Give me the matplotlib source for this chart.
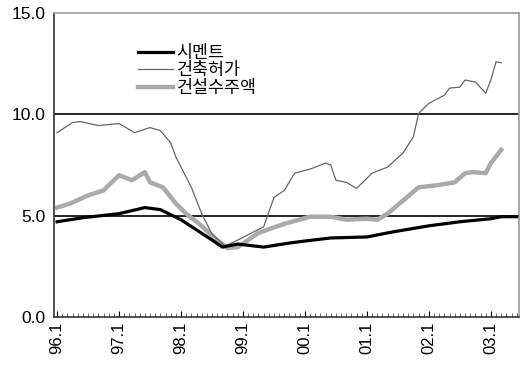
import matplotlib
matplotlib.use("Agg")
import matplotlib.pyplot as plt
from matplotlib.ticker import MultipleLocator

plt.rcParams['font.family'] = ['Liberation Sans', 'Noto Sans CJK KR', 'DejaVu Sans']

# months counted from 96.1
cement_m = [0, 5, 12, 17, 20, 24, 30, 32, 35, 40, 45, 48, 53, 60, 65, 72, 78, 84, 86, 89]
cement_v = [4.7, 4.9, 5.1, 5.4, 5.3, 4.8, 3.8, 3.45, 3.6, 3.45, 3.65, 3.75, 3.9, 3.95,
            4.2, 4.5, 4.7, 4.85, 4.95, 4.95]

permit_m = [0, 3, 4.5, 8, 12, 15, 18, 20, 22, 23, 26, 28, 30, 32.5, 35, 40, 42, 44, 46,
            49, 52, 53, 54, 56, 58, 60, 61, 64, 67, 69, 70, 72, 75, 76, 78, 79, 81, 83,
            84, 85, 86]
permit_v = [9.1, 9.6, 9.65, 9.45, 9.55, 9.1, 9.35, 9.2, 8.6, 7.9, 6.4, 5.1, 4.1, 3.5,
            3.8, 4.45, 5.9, 6.25, 7.1, 7.3, 7.6, 7.5, 6.75, 6.65, 6.35, 6.85, 7.1, 7.4,
            8.1, 8.9, 10.05, 10.55, 10.95, 11.3, 11.35, 11.7, 11.6, 11.05, 11.7, 12.6,
            12.55]

orders_m = [0, 2.5, 6, 9, 12, 14.5, 17, 18, 20.5, 23, 25, 27.5, 31, 33, 35, 39, 44, 49,
            53, 56, 60, 62, 64, 67, 70, 73.5, 77, 79, 80.5, 83, 84, 86]
orders_v = [5.4, 5.6, 6.0, 6.25, 7.0, 6.75, 7.15, 6.65, 6.4, 5.6, 5.1, 4.6, 3.8, 3.4,
            3.45, 4.15, 4.6, 4.95, 4.95, 4.8, 4.85, 4.8, 5.1, 5.75, 6.4, 6.5, 6.65, 7.1,
            7.15, 7.1, 7.6, 8.25]

tick_pos = [0, 12, 24, 36, 48, 60, 72, 84]
tick_labels = ["96.1", "97.1", "98.1", "99.1", "00.1", "01.1", "02.1", "03.1"]

fig = plt.figure(figsize=(5.24, 3.66), dpi=100)
ax = fig.add_axes([0.103, 0.134, 0.887, 0.830])

ax.axhline(5, color='black', lw=1.2, zorder=1)
ax.axhline(10, color='black', lw=1.2, zorder=1)

ax.plot(cement_m, cement_v, color='black', lw=2.3, label='시멘트', zorder=4)
ax.plot(permit_m, permit_v, color='#666666', lw=0.9, label='건축허가', zorder=3)
ax.plot(orders_m, orders_v, color='#aaaaaa', lw=3.2, label='건설수주액', zorder=2)

ax.set_xlim(-0.6, 89.4)
ax.set_ylim(0, 15)
ax.set_yticks([0, 5, 10, 15])
ax.set_yticklabels(["0.0", "5.0", "10.0", "15.0"], fontsize=12.5)
ax.set_xticks(tick_pos)
ax.set_xticklabels(tick_labels, rotation=90, fontsize=12)
ax.xaxis.set_minor_locator(MultipleLocator(1))
ax.tick_params(axis='x', which='minor', direction='in', length=3, color='#555555')
ax.tick_params(axis='x', which='major', direction='in', length=4)
ax.tick_params(axis='y', length=0, pad=6)

for s in ax.spines.values():
    s.set_color('#999999')
    s.set_linestyle((0, (1, 1)))
    s.set_linewidth(1.2)
ax.spines['bottom'].set_color('#333333')
ax.spines['left'].set_color('#333333')

ax.legend(loc='upper left', bbox_to_anchor=(0.163, 0.925), frameon=False, fontsize=12.5,
          handlelength=2.0, handletextpad=0.2, labelspacing=0.1, borderpad=0)

fig.savefig("out.png", dpi=100)
